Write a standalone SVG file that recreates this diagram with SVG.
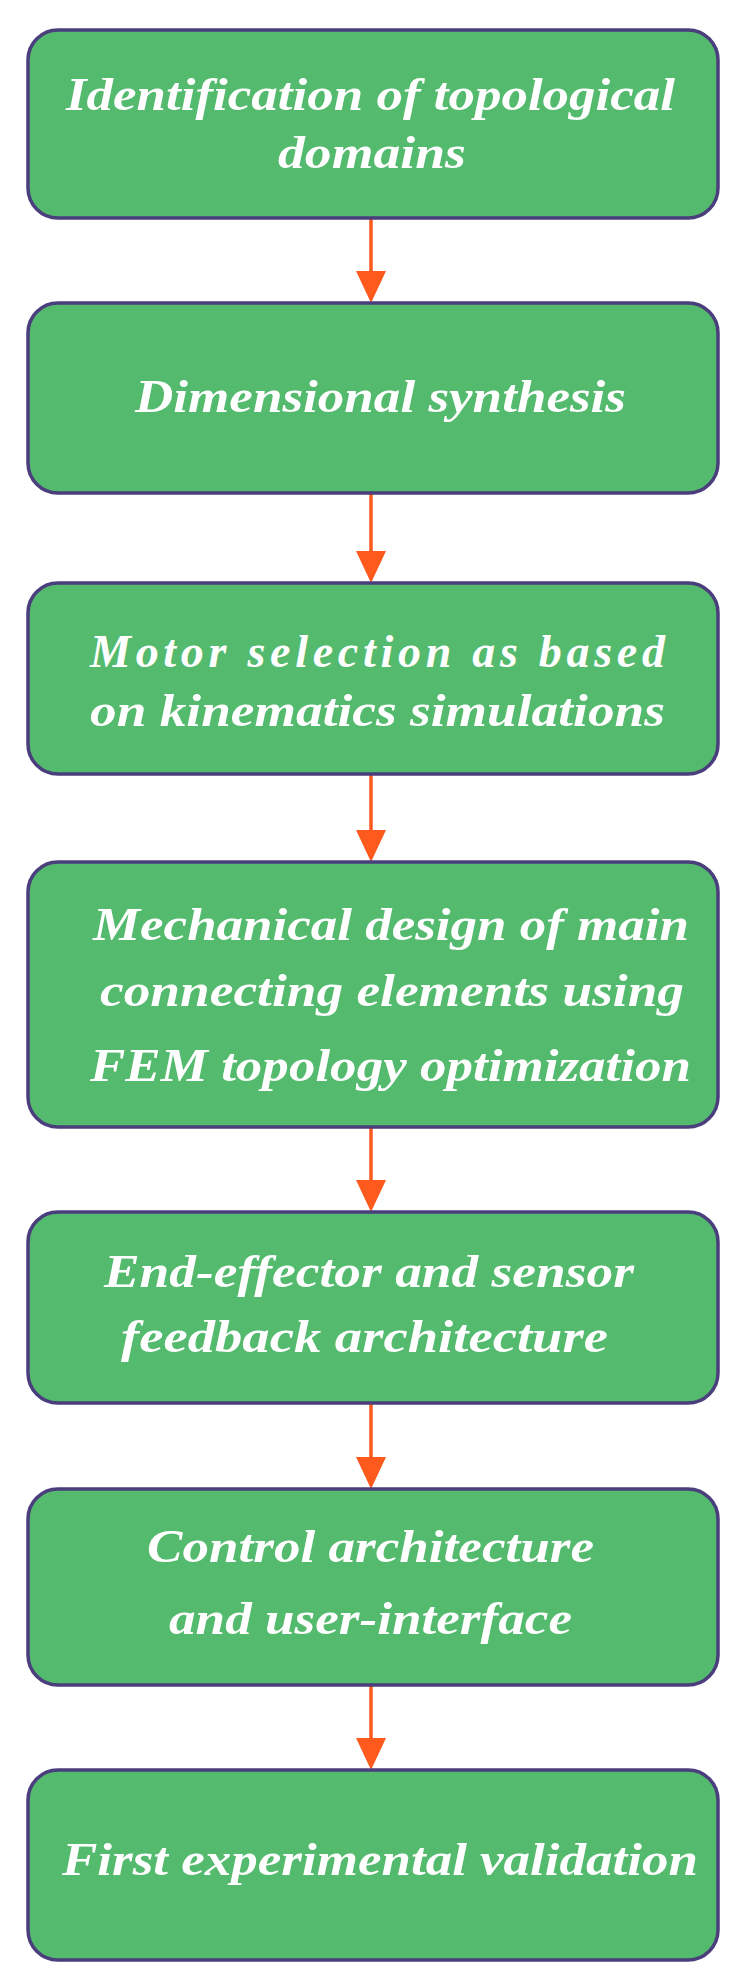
<svg xmlns="http://www.w3.org/2000/svg" width="741" height="1981" viewBox="0 0 741 1981">
<style>
.b{fill:#54BA6E;stroke:#4A3E7C;stroke-width:3.5}
.t{fill:#fff;font-family:"Liberation Serif",serif;font-style:italic;font-weight:bold;font-size:46px}
.c{stroke:#FF5A1E;stroke-width:3.5;fill:none}
.h{fill:#FF5A1E}
</style>
<rect width="741" height="1981" fill="#fff"/>
<g id="connectors">
<line class="c" x1="371" y1="218" x2="371" y2="275"/><polygon class="h" points="356,271 386,271 371,303"/>
<line class="c" x1="371" y1="493" x2="371" y2="555"/><polygon class="h" points="356,551 386,551 371,583"/>
<line class="c" x1="371" y1="774" x2="371" y2="834"/><polygon class="h" points="356,830 386,830 371,862"/>
<line class="c" x1="371" y1="1127" x2="371" y2="1184"/><polygon class="h" points="356,1180 386,1180 371,1212"/>
<line class="c" x1="371" y1="1403" x2="371" y2="1461"/><polygon class="h" points="356,1457 386,1457 371,1489"/>
<line class="c" x1="371" y1="1685" x2="371" y2="1742"/><polygon class="h" points="356,1738 386,1738 371,1770"/>
</g>
<g id="n1"><rect class="b" x="28" y="30" width="690" height="188" rx="30"/>
<text class="t" x="66" y="110" textLength="609" lengthAdjust="spacingAndGlyphs">Identification of topological</text>
<text class="t" x="278" y="168" textLength="188" lengthAdjust="spacingAndGlyphs">domains</text></g>
<g id="n2"><rect class="b" x="28" y="303" width="690" height="190" rx="30"/>
<text class="t" x="135" y="412" textLength="491" lengthAdjust="spacingAndGlyphs">Dimensional synthesis</text></g>
<g id="n3"><rect class="b" x="28" y="583" width="690" height="191" rx="30"/>
<text class="t" x="90" y="667" textLength="575" lengthAdjust="spacing">Motor selection as based</text>
<text class="t" x="90" y="726" textLength="575" lengthAdjust="spacingAndGlyphs">on kinematics simulations</text></g>
<g id="n4"><rect class="b" x="28" y="862" width="690" height="265" rx="30"/>
<text class="t" x="93" y="940" textLength="596" lengthAdjust="spacingAndGlyphs">Mechanical design of main</text>
<text class="t" x="100" y="1006" textLength="584" lengthAdjust="spacingAndGlyphs">connecting elements using</text>
<text class="t" x="90" y="1081" textLength="601" lengthAdjust="spacingAndGlyphs">FEM topology optimization</text></g>
<g id="n5"><rect class="b" x="28" y="1212" width="690" height="191" rx="30"/>
<text class="t" x="104" y="1287" textLength="530" lengthAdjust="spacingAndGlyphs">End-effector and sensor</text>
<text class="t" x="121" y="1352" textLength="487" lengthAdjust="spacingAndGlyphs">feedback architecture</text></g>
<g id="n6"><rect class="b" x="28" y="1489" width="690" height="196" rx="30"/>
<text class="t" x="147" y="1562" textLength="447" lengthAdjust="spacingAndGlyphs">Control architecture</text>
<text class="t" x="169" y="1634" textLength="403" lengthAdjust="spacingAndGlyphs">and user-interface</text></g>
<g id="n7"><rect class="b" x="28" y="1770" width="690" height="190" rx="30"/>
<text class="t" x="62" y="1875" textLength="636" lengthAdjust="spacingAndGlyphs">First experimental validation</text></g>
</svg>
